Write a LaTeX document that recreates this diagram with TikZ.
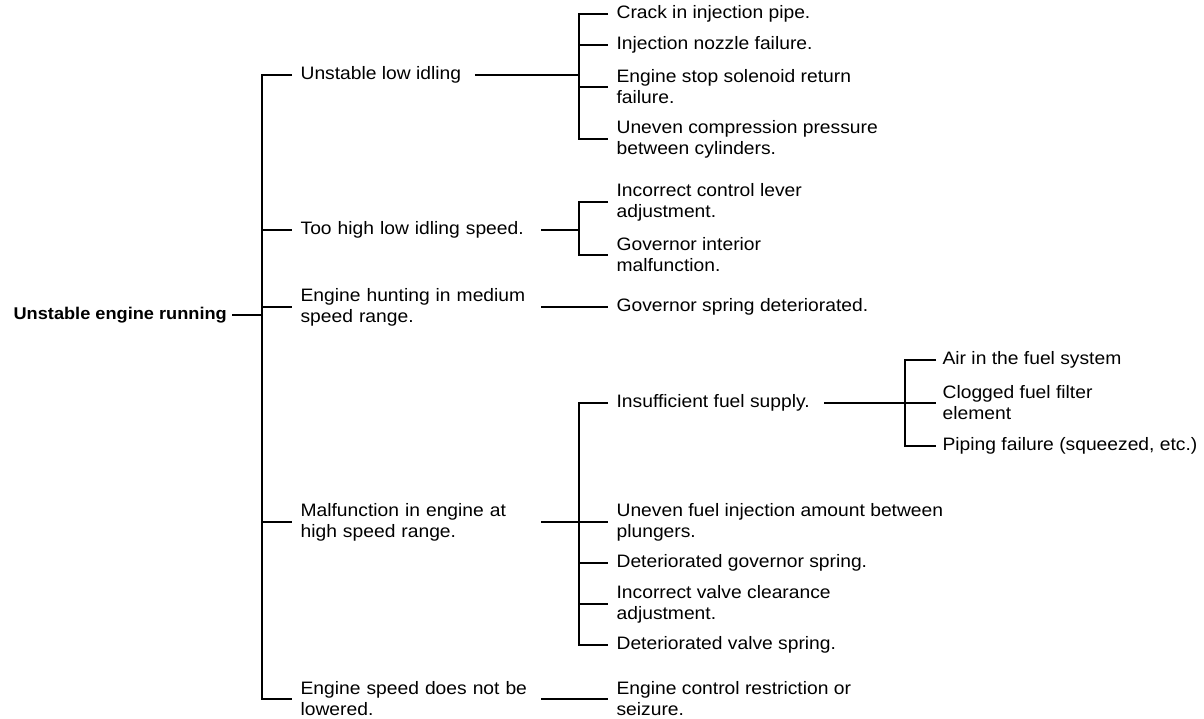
\documentclass[tikz,border=0pt]{standalone}
\usepackage{fontspec}
\setmainfont{Liberation Sans}[FakeStretch=1.07]
\usetikzlibrary{calc}
\tikzstyle{lbl}=[anchor=west, align=left, inner sep=0, font=\fontsize{18}{21}\selectfont]
\tikzstyle{mid}=[lbl, text width=231pt]
\tikzstyle{top}=[lbl, font=\fontsize{17}{21}\bfseries\selectfont]

\begin{document}
\begin{tikzpicture}[x=1pt, y=-1pt, line width=1.2pt]
\useasboundingbox (0,0) rectangle (1204,719);
% first level
\node at (13,315)[top](root){Unstable engine running};
\node at (300,75)[lbl](idle){Unstable low idling};
\node at (300,230)[mid](high){Too high low idling speed.};
\node at (300,307)[mid](hunt){Engine hunting in medium\\speed range.};
\node at (300,522)[mid](malf){Malfunction in engine at\\high speed range.};
\node at (300,699)[mid](low){Engine speed does not be\\lowered.};
% second level
\node at (616,14)[lbl](crack){Crack in injection pipe.};
\node at (616,45)[lbl](nozzle){Injection nozzle failure.};
\node at (616,87)[lbl](stop){Engine stop solenoid return\\failure.};
\node at (616,139)[lbl](comp){Uneven compression pressure\\between cylinders.};
\node at (616,202)[lbl](lever){Incorrect control lever\\adjustment.};
\node at (616,255)[lbl](govint){Governor interior\\malfunction.};
\node at (616,307)[lbl](spring){Governor spring deteriorated.};
\node at (616,403)[lbl](insuff){Insufficient fuel supply.};
\node at (616,522)[lbl](plunger){Uneven fuel injection amount between\\plungers.};
\node at (616,563)[lbl](govspr){Deteriorated governor spring.};
\node at (616,604)[lbl](clear){Incorrect valve clearance\\adjustment.};
\node at (616,645)[lbl](vspring){Deteriorated valve spring.};
\node at (616,699)[lbl](ctrl){Engine control restriction or\\seizure.};
% third level
\node at (942,360)[lbl](air){Air in the fuel system};
\node at (942,403)[lbl](clog){Clogged fuel filter\\element};
\node at (942,446)[lbl](pipe){Piping failure (squeezed, etc.)};
\coordinate (t) at (262,0);
\coordinate (a) at (579,0);
\coordinate (d) at (905,0);
% trunk
\draw ([xshift=5pt]root.east)--(root.east -| t);
\draw ([xshift=-8pt]idle.west) -| (t |- low.west)--([xshift=-8pt]low.west);
\foreach \n in {high,hunt,malf} \draw (t |- \n.west)--([xshift=-8pt]\n.west);
% brackets
\draw ([xshift=13pt]idle.east)--(idle.east -| a);
\draw ([xshift=-8pt]crack.west) -| (a |- comp.west)--([xshift=-8pt]comp.west);
\foreach \n in {nozzle,stop} \draw (a |- \n.west)--([xshift=-8pt]\n.west);
\draw ([xshift=9pt]high.east)--(high.east -| a);
\draw ([xshift=-8pt]lever.west) -| (a |- govint.west)--([xshift=-8pt]govint.west);
\draw ([xshift=9pt]hunt.east)--([xshift=-8pt]spring.west);
\draw ([xshift=9pt]malf.east)--([xshift=-8pt]plunger.west);
\draw ([xshift=-8pt]insuff.west) -| (a |- vspring.west)--([xshift=-8pt]vspring.west);
\foreach \n in {govspr,clear} \draw (a |- \n.west)--([xshift=-8pt]\n.west);
\draw ([xshift=14pt]insuff.east)--([xshift=-6pt]clog.west);
\draw ([xshift=-6pt]air.west) -| (d |- pipe.west)--([xshift=-6pt]pipe.west);
\draw ([xshift=9pt]low.east)--([xshift=-8pt]ctrl.west);
\end{tikzpicture}
\end{document}
